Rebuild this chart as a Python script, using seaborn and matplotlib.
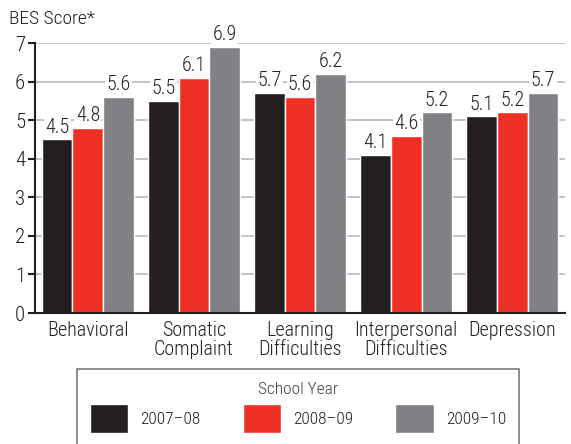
import pandas as pd
import matplotlib.pyplot as plt
import seaborn as sns

# Data
categories = ["Behavioral", "Somatic\nComplaint", "Learning\nDifficulties",
              "Interpersonal\nDifficulties", "Depression"]
years = ["2007\u201308", "2008\u201309", "2009\u201310"]
scores_0708 = [4.5, 5.5, 5.7, 4.1, 5.1]
scores_0809 = [4.8, 6.1, 5.6, 4.6, 5.2]
scores_0910 = [5.6, 6.9, 6.2, 5.2, 5.7]
colors = ["#231f20", "#ee3124", "#808184"]

df = pd.DataFrame({
    "Category": categories * 3,
    "Year": [y for y in years for _ in categories],
    "Score": scores_0708 + scores_0809 + scores_0910,
})

sns.set_style("white")
plt.rcParams["font.family"] = ["Roboto Condensed", "DejaVu Sans"]
plt.rcParams["font.weight"] = "light"
txt = "#231f20"

fig = plt.figure(figsize=(5.71, 4.44), dpi=100)
ax = fig.add_axes([0.061, 0.295, 0.929, 0.608])

sns.barplot(data=df, x="Category", y="Score", hue="Year", palette=colors,
            width=0.87, saturation=1, ax=ax, legend=True)

ax.set_ylim(0, 7)
ax.set_yticks(range(0, 8))
ax.set_xlim(-0.5, 4.5)
ax.set_axisbelow(True)
ax.yaxis.grid(True, color="#bcbec0", lw=1.3)

for cont in ax.containers:
    ax.bar_label(cont, fmt="%.1f", padding=2, fontsize=14.5, color=txt,
                 bbox=dict(facecolor="white", edgecolor="none", pad=1))

for s in ["top", "right"]:
    ax.spines[s].set_visible(False)
for s in ["left", "bottom"]:
    ax.spines[s].set_color(txt)
    ax.spines[s].set_linewidth(1.5)
ax.tick_params(axis="y", left=True, length=5, width=1.5, color=txt,
               labelsize=15, labelcolor=txt, pad=2)
ax.tick_params(axis="x", bottom=False, labelsize=14.5, labelcolor=txt, pad=2)
for lab in ax.get_xticklabels():
    lab.set_linespacing(1.0)
ax.set_xlabel("")
ax.set_ylabel("")
fig.text(0.016, 0.978, "BES Score*", fontsize=14, color=txt, va="top", ha="left")

handles, labels = ax.get_legend_handles_labels()
ax.legend_.remove()
leg = fig.legend(handles, labels, title="School Year", ncol=3,
                 loc="upper left", bbox_to_anchor=(0.135, 0.0, 0.774, 0.169),
                 mode="expand", borderaxespad=0, fontsize=12.5, title_fontsize=12.5,
                 frameon=True, fancybox=False, edgecolor="#58595b",
                 handlelength=2.2, handleheight=2.2, handletextpad=0.7,
                 borderpad=0.75, labelspacing=0.4, columnspacing=2.0)
leg.get_frame().set_linewidth(1.2)
leg.get_title().set_color("#414042")
for t in leg.get_texts():
    t.set_color(txt)

fig.savefig("out.png", dpi=100)
